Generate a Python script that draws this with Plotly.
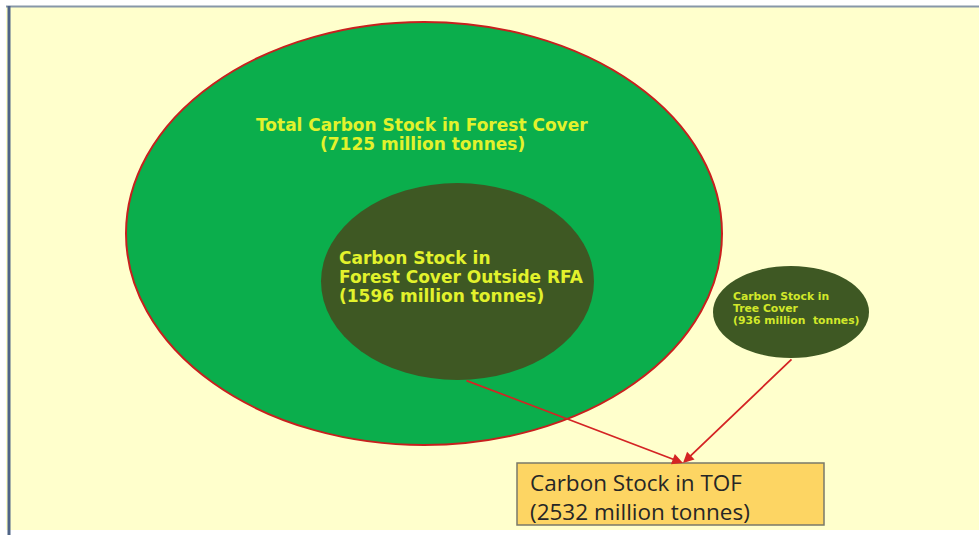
import plotly.graph_objects as go

# ---- data ----
labels = ["Total Carbon Stock in Forest Cover",
          "Carbon Stock in Forest Cover Outside RFA",
          "Carbon Stock in Tree Cover",
          "Carbon Stock in TOF"]
values = [7125, 1596, 936, 2532]
unit = "million tonnes"

W, H = 979, 535
fig = go.Figure()
fig.add_trace(go.Scatter(x=[0, W], y=[0, H], mode="markers",
                         marker=dict(opacity=0), hoverinfo="skip", showlegend=False))

shapes = []
# panel background
shapes.append(dict(type="rect", xref="x", yref="y", x0=6, y0=6, x1=W + 2, y1=530,
                   fillcolor="#FFFFCC", line=dict(width=0), layer="below"))
shapes.append(dict(type="line", xref="x", yref="y", x0=6, y0=6.5, x1=W, y1=6.5,
                   line=dict(color="#8797A8", width=2)))
shapes.append(dict(type="line", xref="x", yref="y", x0=9, y0=6, x1=9, y1=535,
                   line=dict(color="#4F6486", width=3)))
# big ellipse
shapes.append(dict(type="circle", xref="x", yref="y", x0=126, y0=22, x1=722, y1=445,
                   fillcolor="#0BAE4C", line=dict(color="#C8201E", width=2)))
# inner ellipse
shapes.append(dict(type="circle", xref="x", yref="y", x0=321, y0=183, x1=594, y1=380,
                   fillcolor="#3E5823", line=dict(width=0)))
# small ellipse
shapes.append(dict(type="circle", xref="x", yref="y", x0=713, y0=266, x1=869, y1=358,
                   fillcolor="#3E5823", line=dict(width=0)))
# TOF box
shapes.append(dict(type="rect", xref="x", yref="y", x0=517, y0=463, x1=824, y1=525,
                   fillcolor="#FDD563", line=dict(color="#7A7A6A", width=1.5)))

ann = []
yel = "#E2F22C"


def lines(texts, x, y0, dy, size, family, color, anchor, bold=True):
    for i, t in enumerate(texts):
        ann.append(dict(x=x, y=y0 + i * dy, xref="x", yref="y", showarrow=False,
                        text=f"<b>{t}</b>" if bold else t,
                        font=dict(family=family, size=size, color=color),
                        xanchor=anchor, yanchor="middle"))


lines([labels[0], f"({values[0]} {unit})"], 422, 125, 19, 17,
      "DejaVu Sans", yel, "center")
lines(["Carbon Stock in", "Forest Cover Outside RFA", f"({values[1]} {unit})"],
      337, 258, 19, 17, "DejaVu Sans", yel, "left")
lines(["Carbon Stock in", "Tree Cover", f"({values[2]} million  tonnes)"],
      731, 296, 12, 10.8, "DejaVu Sans", "#D2E82A", "left")

# TOF box text (single block)
ann.append(dict(x=528, y=497, xref="x", yref="y", showarrow=False,
                text=f"{labels[3]}<br>({values[3]} {unit})",
                font=dict(family="Open Sans", size=22.5, color="#262626"),
                align="left", xanchor="left", yanchor="middle"))

# arrows
for sx, sy in [(465, 380), (793, 358)]:
    ann.append(dict(x=683, y=463, xref="x", yref="y", ax=sx, ay=sy, axref="x", ayref="y",
                    showarrow=True, arrowhead=2, arrowsize=1.2, arrowwidth=1.8,
                    arrowcolor="#D42424", text=""))

fig.update_layout(width=W, height=H, margin=dict(l=0, r=0, t=0, b=0),
                  paper_bgcolor="white", plot_bgcolor="white",
                  xaxis=dict(range=[0, W], visible=False, fixedrange=True),
                  yaxis=dict(range=[H, 0], visible=False, fixedrange=True),
                  shapes=shapes, annotations=ann, showlegend=False)
fig.write_html("out.html")
